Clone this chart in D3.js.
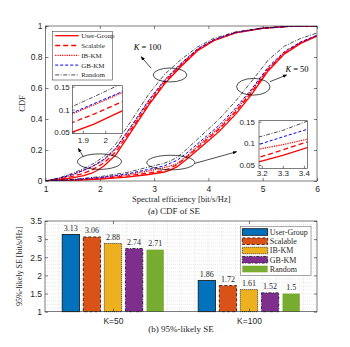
<!DOCTYPE html>
<html>
<head>
<meta charset="utf-8">
<script src="https://cdn.jsdelivr.net/npm/d3@7"></script>
<style>
body { margin: 0; background: #fff; }
svg { display: block; }
</style>
</head>
<body>
<div id="chart"></div>
<script>
const SCHEMES = ["User-Group", "Scalable", "IB-KM", "GB-KM", "Random"]

// (a) CDF of spectral efficiency, K = 100
const SE_K100 = [1, 1.25, 1.5, 1.7, 1.85, 1.95, 2.08, 2.3, 2.6, 2.9, 3.2, 3.5, 3.8, 4.1, 4.5, 5, 5.5, 6]
const CDF_K100_USERGROUP = [0, 0.008, 0.02, 0.035, 0.05, 0.068, 0.098, 0.17, 0.33, 0.49, 0.63, 0.74, 0.84, 0.905, 0.955, 0.985, 0.998, 1]
const CDF_K100_SCALABLE = [0, 0.012, 0.03, 0.05, 0.071, 0.09, 0.118, 0.19, 0.345, 0.5, 0.64, 0.75, 0.845, 0.908, 0.957, 0.986, 0.998, 1]
const CDF_K100_IBKM = [0, 0.016, 0.04, 0.068, 0.09, 0.11, 0.138, 0.21, 0.36, 0.515, 0.65, 0.755, 0.85, 0.91, 0.958, 0.986, 0.998, 1]
const CDF_K100_GBKM = [0, 0.017, 0.042, 0.07, 0.092, 0.113, 0.14, 0.215, 0.365, 0.52, 0.655, 0.76, 0.852, 0.912, 0.958, 0.986, 0.998, 1]
const CDF_K100_RANDOM = [0, 0.02, 0.05, 0.08, 0.106, 0.128, 0.158, 0.24, 0.4, 0.56, 0.69, 0.785, 0.865, 0.92, 0.962, 0.988, 0.998, 1]

// (a) CDF of spectral efficiency, K = 50
const SE_K50 = [1, 1.5, 2, 2.5, 2.9, 3.19, 3.3, 3.42, 3.6, 3.8, 4.0, 4.2, 4.5, 4.8, 5.1, 5.4, 5.7, 6]
const CDF_K50_USERGROUP = [0, 0.004, 0.012, 0.025, 0.042, 0.058, 0.072, 0.091, 0.14, 0.2, 0.26, 0.32, 0.43, 0.56, 0.71, 0.82, 0.888, 0.935]
const CDF_K50_SCALABLE = [0, 0.005, 0.015, 0.032, 0.052, 0.068, 0.085, 0.104, 0.155, 0.215, 0.275, 0.335, 0.445, 0.575, 0.72, 0.825, 0.892, 0.937]
const CDF_K50_IBKM = [0, 0.007, 0.02, 0.04, 0.065, 0.087, 0.097, 0.11, 0.16, 0.225, 0.285, 0.345, 0.455, 0.585, 0.725, 0.83, 0.894, 0.938]
const CDF_K50_GBKM = [0, 0.008, 0.022, 0.045, 0.075, 0.098, 0.115, 0.133, 0.18, 0.24, 0.3, 0.36, 0.47, 0.595, 0.735, 0.835, 0.897, 0.94]
const CDF_K50_RANDOM = [0, 0.01, 0.028, 0.055, 0.09, 0.115, 0.13, 0.152, 0.205, 0.27, 0.335, 0.4, 0.515, 0.645, 0.78, 0.87, 0.92, 0.955]

// (b) 95%-likely SE
const GROUPS = ["K=50", "K=100"]
const SE95_K50 = [3.13, 3.06, 2.88, 2.74, 2.71]
const SE95_K100 = [1.86, 1.72, 1.61, 1.52, 1.5]

// annotations in data units: [cx, cy, halfWidth, halfHeight]
const ELLIPSES = [[3.293, 0.684, 0.31, 0.045], [1.994, 0.125, 0.405, 0.05], [3.307, 0.119, 0.442, 0.047], [4.827, 0.608, 0.308, 0.054]]
const ARROWS = [[2.947, 0.727, 2.76, 0.802], [1.696, 0.157, 1.604, 0.211], [3.753, 0.114, 4.521, 0.189], [5.134, 0.641, 5.442, 0.684]]
const K_LABELS = [["100", 2.878, 0.845], ["50", 5.632, 0.703]]

const SERIF = "'Liberation Serif', 'DejaVu Serif', serif"
const SANS = "'Liberation Sans', Arial, sans-serif"
const INK = "#262626"

const LINE_STYLE = {
	"User-Group": { stroke: "#ff0000", dash: null, w: 1.3 },
	"Scalable": { stroke: "#ff0000", dash: "5,3", w: 1.3 },
	"IB-KM": { stroke: "#ff0000", dash: "1.2,1.1", w: 1.3 },
	"GB-KM": { stroke: "#0000ff", dash: "3,2", w: 1 },
	"Random": { stroke: "#000", dash: "4,1.5,1,1.5", w: 0.7 }
}
const BAR_STYLE = {
	"User-Group": { fill: "#0072BD", stroke: "#111", dash: null },
	"Scalable": { fill: "#D95319", stroke: "#111", dash: "3,2" },
	"IB-KM": { fill: "#EDB120", stroke: "#111", dash: "1,1" },
	"GB-KM": { fill: "#7E2F8E", stroke: "#111", dash: "3,1.5,1,1.5" },
	"Random": { fill: "#77AC30", stroke: "none", dash: null }
}

const cdfSeries = [
	{ k: 100, name: "User-Group", xs: SE_K100, ys: CDF_K100_USERGROUP },
	{ k: 100, name: "Scalable", xs: SE_K100, ys: CDF_K100_SCALABLE },
	{ k: 100, name: "IB-KM", xs: SE_K100, ys: CDF_K100_IBKM },
	{ k: 100, name: "GB-KM", xs: SE_K100, ys: CDF_K100_GBKM },
	{ k: 100, name: "Random", xs: SE_K100, ys: CDF_K100_RANDOM },
	{ k: 50, name: "User-Group", xs: SE_K50, ys: CDF_K50_USERGROUP },
	{ k: 50, name: "Scalable", xs: SE_K50, ys: CDF_K50_SCALABLE },
	{ k: 50, name: "IB-KM", xs: SE_K50, ys: CDF_K50_IBKM },
	{ k: 50, name: "GB-KM", xs: SE_K50, ys: CDF_K50_GBKM },
	{ k: 50, name: "Random", xs: SE_K50, ys: CDF_K50_RANDOM }
].map(s => ({ ...s, pts: s.xs.map((x, i) => [x, s.ys[i]]) }))

const svg = d3.select("#chart").append("svg")
	.attr("width", 350).attr("height", 347)

svg.append("defs").append("marker")
	.attr("id", "arrow")
	.attr("viewBox", "0 0 10 10")
	.attr("refX", 9).attr("refY", 5)
	.attr("markerWidth", 6).attr("markerHeight", 6)
	.attr("orient", "auto")
	.append("path").attr("d", "M0,1L10,5L0,9z").attr("fill", "#000")

function styleAxis(g, size) {
	g.select(".domain").remove()
	g.selectAll(".tick line").attr("stroke", INK).attr("stroke-width", 0.6)
	g.selectAll(".tick text").attr("fill", INK).style("font-family", SANS).style("font-size", size + "px")
}

function drawCurves(g, x, y, clipId) {
	const line = d3.line().x(d => x(d[0])).y(d => y(d[1]))
	g.append("g").attr("clip-path", `url(#${clipId})`)
		.selectAll("path").data(cdfSeries).join("path")
			.attr("d", d => line(d.pts))
			.attr("fill", "none")
			.attr("stroke", d => LINE_STYLE[d.name].stroke)
			.attr("stroke-width", d => LINE_STYLE[d.name].w)
			.attr("stroke-dasharray", d => LINE_STYLE[d.name].dash)
}

function addClip(id, x0, y0, w, h) {
	svg.select("defs").append("clipPath").attr("id", id)
		.append("rect").attr("x", x0).attr("y", y0).attr("width", w).attr("height", h)
}

// ---------- (a) CDF ----------
const xA = d3.scaleLinear([1, 6], [45.5, 317])
const yA = d3.scaleLinear([0, 1], [181, 26])
const gA = svg.append("g")

addClip("clipA", xA(1), yA(1), xA(6) - xA(1), yA(0) - yA(1))
drawCurves(gA, xA, yA, "clipA")

gA.append("rect")
	.attr("x", xA(1)).attr("y", yA(1))
	.attr("width", xA(6) - xA(1)).attr("height", yA(0) - yA(1))
	.attr("fill", "none").attr("stroke", INK).attr("stroke-width", 0.6)

gA.append("g").attr("transform", `translate(0,${yA(0)})`)
	.call(d3.axisBottom(xA).ticks(6).tickFormat(d3.format("~g")).tickSizeInner(-3).tickSizeOuter(0).tickPadding(5))
	.call(g => styleAxis(g, 8.5))
gA.append("g").attr("transform", `translate(0,${yA(1)})`)
	.call(d3.axisTop(xA).ticks(6).tickFormat("").tickSizeInner(-3).tickSizeOuter(0))
	.call(g => styleAxis(g, 8.5))
gA.append("g").attr("transform", `translate(${xA(1)},0)`)
	.call(d3.axisLeft(yA).ticks(5).tickFormat(d3.format("~g")).tickSizeInner(-3).tickSizeOuter(0).tickPadding(3))
	.call(g => styleAxis(g, 8.5))
gA.append("g").attr("transform", `translate(${xA(6)},0)`)
	.call(d3.axisRight(yA).ticks(5).tickFormat("").tickSizeInner(-3).tickSizeOuter(0))
	.call(g => styleAxis(g, 8.5))

// ellipses and arrows
gA.selectAll("ellipse").data(ELLIPSES).join("ellipse")
	.attr("cx", d => xA(d[0])).attr("cy", d => yA(d[1]))
	.attr("rx", d => xA(d[0] + d[2]) - xA(d[0]))
	.attr("ry", d => yA(d[1] - d[3]) - yA(d[1]))
	.attr("fill", "none").attr("stroke", "#000").attr("stroke-width", 0.7)
gA.selectAll("line.arrow").data(ARROWS).join("line")
	.attr("class", "arrow")
	.attr("x1", d => xA(d[0])).attr("y1", d => yA(d[1]))
	.attr("x2", d => xA(d[2])).attr("y2", d => yA(d[3]))
	.attr("stroke", "#000").attr("stroke-width", 0.7)
	.attr("marker-end", "url(#arrow)")
const kText = gA.selectAll("text.klabel").data(K_LABELS).join("text")
	.attr("class", "klabel")
	.attr("x", d => xA(d[1])).attr("y", d => yA(d[2]))
	.attr("text-anchor", "middle")
	.style("font-family", SERIF).style("font-size", "8.5px").attr("fill", "#000")
kText.append("tspan").style("font-style", "italic").text("K")
kText.append("tspan").text(d => " = " + d[0])

// legend (a)
const legA = gA.append("g").attr("transform", "translate(52.7,31.7)")
legA.append("rect").attr("width", 60).attr("height", 48.3)
	.attr("fill", "#fff").attr("stroke", INK).attr("stroke-width", 0.5)
const legARows = legA.selectAll("g.row").data(SCHEMES).join("g")
	.attr("class", "row")
	.attr("transform", (d, i) => `translate(0,${4 + i * 9.8})`)
legARows.append("line")
	.attr("x1", 2.5).attr("x2", 26).attr("y1", 0).attr("y2", 0)
	.attr("stroke", d => LINE_STYLE[d].stroke)
	.attr("stroke-width", d => LINE_STYLE[d].w)
	.attr("stroke-dasharray", d => LINE_STYLE[d].dash)
legARows.append("text")
	.attr("x", 28.5).attr("y", 2.4)
	.style("font-family", SERIF).style("font-size", "7px").attr("fill", INK)
	.text(d => d)

// insets
function drawInset(id, xDom, xRange, yDom, yRange, xTicks, yTicks, yPad, xPad) {
	const xi = d3.scaleLinear(xDom, xRange)
	const yi = d3.scaleLinear(yDom, yRange)
	const g = gA.append("g")
	g.append("rect")
		.attr("x", xRange[0]).attr("y", yRange[1])
		.attr("width", xRange[1] - xRange[0]).attr("height", yRange[0] - yRange[1])
		.attr("fill", "#fff")
	addClip(id, xRange[0], yRange[1], xRange[1] - xRange[0], yRange[0] - yRange[1])
	drawCurves(g, xi, yi, id)
	g.append("rect")
		.attr("x", xRange[0]).attr("y", yRange[1])
		.attr("width", xRange[1] - xRange[0]).attr("height", yRange[0] - yRange[1])
		.attr("fill", "none").attr("stroke", INK).attr("stroke-width", 0.6)
	g.append("g").attr("transform", `translate(0,${yRange[0]})`)
		.call(d3.axisBottom(xi).tickValues(xTicks).tickFormat(d3.format("~g")).tickSizeInner(-2.5).tickSizeOuter(0).tickPadding(xPad))
		.call(a => styleAxis(a, 8))
	g.append("g").attr("transform", `translate(${xRange[0]},0)`)
		.call(d3.axisLeft(yi).tickValues(yTicks).tickFormat(d3.format("~g")).tickSizeInner(-2.5).tickSizeOuter(0).tickPadding(yPad))
		.call(a => styleAxis(a, 8))
}
drawInset("clipI1", [1.853, 2.076], [72.3, 122.3], [0.048, 0.152], [133.3, 85.7], [1.9, 2], [0.05, 0.1, 0.15], 2.5, 4)
drawInset("clipI2", [3.187, 3.416], [259, 307.3], [0.0424, 0.1523], [168.3, 120.7], [3.2, 3.3, 3.4], [0.05, 0.1, 0.15], 4, 2.5)

// labels (a)
svg.append("text")
	.attr("x", (xA(1) + xA(6)) / 2).attr("y", 202)
	.attr("text-anchor", "middle")
	.style("font-family", SERIF).style("font-size", "8.5px").attr("fill", INK)
	.text("Spectral efficiency [bit/s/Hz]")
svg.append("text")
	.attr("transform", `translate(25,${(yA(0) + yA(1)) / 2}) rotate(-90)`)
	.attr("text-anchor", "middle")
	.style("font-family", SERIF).style("font-size", "8.5px").attr("fill", INK)
	.text("CDF")
svg.append("text")
	.attr("x", 174).attr("y", 214)
	.attr("text-anchor", "middle")
	.style("font-family", SERIF).style("font-size", "9px").attr("fill", INK)
	.text("(a) CDF of SE")

// ---------- (b) 95%-likely SE ----------
const xB = d3.scaleLinear([0.5, 2.5], [45, 317])
const yB = d3.scaleLinear([1, 3.5], [311.7, 221])
const inner = d3.scaleBand(SCHEMES, [-50.8, 50.8]).paddingInner(0.18)
const gB = svg.append("g")

// grid
gB.selectAll("line.hminor").data(d3.range(11, 35).map(v => v / 10)).join("line")
	.attr("class", "hminor")
	.attr("x1", xB(0.5)).attr("x2", xB(2.5))
	.attr("y1", d => yB(d)).attr("y2", d => yB(d))
	.attr("stroke", "#d4d4d4").attr("stroke-width", 0.5).attr("stroke-dasharray", "1,1")
gB.selectAll("line.vminor").data(d3.range(6, 25).map(v => v / 10)).join("line")
	.attr("class", "vminor")
	.attr("x1", d => xB(d)).attr("x2", d => xB(d))
	.attr("y1", yB(1)).attr("y2", yB(3.5))
	.attr("stroke", "#d4d4d4").attr("stroke-width", 0.5).attr("stroke-dasharray", "1,1")

const barData = [
	...SE95_K50.map((v, i) => ({ g: 1, name: SCHEMES[i], v })),
	...SE95_K100.map((v, i) => ({ g: 2, name: SCHEMES[i], v }))
]
gB.selectAll("rect.bar").data(barData).join("rect")
	.attr("class", "bar")
	.attr("x", d => xB(d.g) + inner(d.name))
	.attr("width", inner.bandwidth())
	.attr("y", d => yB(d.v))
	.attr("height", d => yB(1) - yB(d.v))
	.attr("fill", d => BAR_STYLE[d.name].fill)
	.attr("stroke", d => BAR_STYLE[d.name].stroke)
	.attr("stroke-width", 0.8)
	.attr("stroke-dasharray", d => BAR_STYLE[d.name].dash)
gB.selectAll("text.val").data(barData).join("text")
	.attr("class", "val")
	.attr("x", d => xB(d.g) + inner(d.name) + inner.bandwidth() / 2)
	.attr("y", d => yB(d.v) - 3.5)
	.attr("text-anchor", "middle")
	.style("font-family", SERIF).style("font-size", "8px").attr("fill", INK)
	.text(d => d.v)

gB.append("rect")
	.attr("x", xB(0.5)).attr("y", yB(3.5))
	.attr("width", xB(2.5) - xB(0.5)).attr("height", yB(1) - yB(3.5))
	.attr("fill", "none").attr("stroke", INK).attr("stroke-width", 0.6)

gB.append("g").attr("transform", `translate(0,${yB(1)})`)
	.call(d3.axisBottom(xB).tickValues([1, 2]).tickFormat((d, i) => GROUPS[i]).tickSizeInner(-3).tickSizeOuter(0).tickPadding(6))
	.call(g => styleAxis(g, 8.5))
gB.append("g").attr("transform", `translate(0,${yB(3.5)})`)
	.call(d3.axisTop(xB).tickValues([1, 2]).tickFormat("").tickSizeInner(-3).tickSizeOuter(0))
	.call(g => styleAxis(g, 8.5))
gB.append("g").attr("transform", `translate(${xB(0.5)},0)`)
	.call(d3.axisLeft(yB).tickValues(d3.range(1, 3.51, 0.5)).tickFormat(d3.format("~g")).tickSizeInner(-3).tickSizeOuter(0).tickPadding(3))
	.call(g => styleAxis(g, 8.5))
gB.append("g").attr("transform", `translate(${xB(2.5)},0)`)
	.call(d3.axisRight(yB).tickValues(d3.range(1, 3.51, 0.5)).tickFormat("").tickSizeInner(-3).tickSizeOuter(0))
	.call(g => styleAxis(g, 8.5))

// legend (b)
const legB = gB.append("g").attr("transform", "translate(240.3,226.7)")
legB.append("rect").attr("width", 70.7).attr("height", 48.6)
	.attr("fill", "#fff").attr("stroke", "#555").attr("stroke-width", 0.5)
const legBRows = legB.selectAll("g.row").data(SCHEMES).join("g")
	.attr("class", "row")
	.attr("transform", (d, i) => `translate(0,${5.3 + i * 9.25})`)
legBRows.append("rect")
	.attr("x", 2).attr("y", -3.3).attr("width", 25.4).attr("height", 6.6)
	.attr("fill", d => BAR_STYLE[d].fill)
	.attr("stroke", d => BAR_STYLE[d].stroke)
	.attr("stroke-width", 0.8)
	.attr("stroke-dasharray", d => BAR_STYLE[d].dash)
legBRows.append("text")
	.attr("x", 29.5).attr("y", 2.8)
	.style("font-family", SERIF).style("font-size", "8px").attr("fill", INK)
	.text(d => d)

svg.append("text")
	.attr("transform", `translate(21.5,${(yB(1) + yB(3.5)) / 2}) rotate(-90)`)
	.attr("text-anchor", "middle")
	.style("font-family", SERIF).style("font-size", "8px").attr("fill", INK)
	.text("95%-likely SE [bit/s/Hz]")
svg.append("text")
	.attr("x", 181).attr("y", 331.5)
	.attr("text-anchor", "middle")
	.style("font-family", SERIF).style("font-size", "9px").attr("fill", INK)
	.text("(b) 95%-likely SE")
</script>
</body>
</html>
